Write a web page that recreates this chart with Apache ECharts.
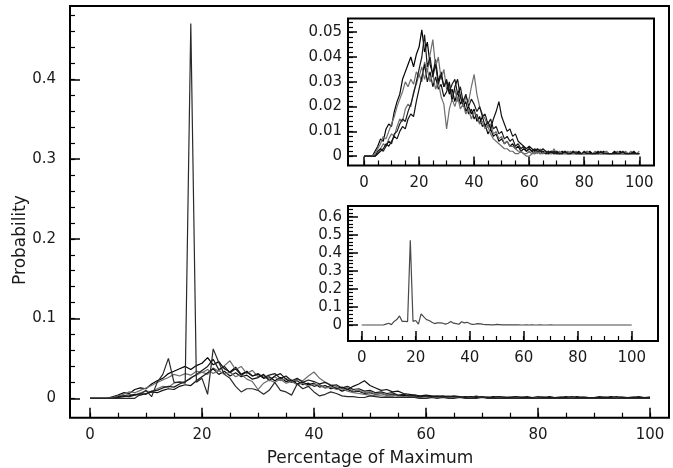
<!DOCTYPE html>
<html>
<head>
<meta charset="utf-8">
<script src="https://cdn.jsdelivr.net/npm/echarts@6/dist/echarts.min.js"></script>
<style>
html,body{margin:0;padding:0;background:#fff;}
#chart{width:673px;height:468px;}
</style>
</head>
<body>
<div id="chart"></div>
<script>
// x positions: percentage of maximum, 0..100 step 1
const pct = Array.from({length: 101}, (_, i) => i);

const seriesA = [0,0,0,0,0.002,0.004,0.007,0.006,0.011,0.013,
 0.012,0.018,0.022,0.025,0.031,0.034,0.037,0.040,0.036,0.041,
 0.044,0.051,0.042,0.046,0.037,0.033,0.039,0.030,0.034,0.028,
 0.030,0.025,0.027,0.022,0.026,0.021,0.023,0.018,0.020,0.017,
 0.019,0.014,0.016,0.012,0.013,0.009,0.011,0.008,0.009,0.006,
 0.007,0.005,0.006,0.004,0.005,0.003,0.004,0.002,0.003,0.002,
 0.003,
 0.002,0.001,0.002,0.001,0.002,0.001,0.001,0.002,0.001,0.001,
 0.001,0.002,0.001,0.001,0.001,0.002,0.001,0.001,0.001,0.001,
 0.001,0.002,0.001,0.001,0.001,0.001,0.002,0.001,0.001,0.001,
 0.001,0.001,0.002,0.001,0.001,0.001,0.001,0.001,0.001,0.001];

const seriesB = [0,0,0,0,0,0.001,0.003,0.005,0.004,0.007,
 0.009,0.008,0.012,0.015,0.014,0.019,0.021,0.020,0.026,0.029,
 0.033,0.030,0.038,0.034,0.041,0.047,0.036,0.040,0.031,0.035,
 0.027,0.029,0.024,0.027,0.022,0.025,0.020,0.024,0.022,0.028,
 0.033,0.025,0.020,0.017,0.015,0.012,0.013,0.009,0.010,0.007,
 0.008,0.005,0.006,0.004,0.004,0.003,0.002,0.002,0.001,0.000,
 0.000,
 0.001,0.002,0.001,0.003,0.001,0.002,0.002,0.001,0.003,0.001,
 0.002,0.001,0.001,0.002,0.001,0.001,0.002,0.001,0.001,0.001,
 0.002,0.001,0.001,0.002,0.001,0.001,0.001,0.002,0.001,0.001,
 0.001,0.002,0.001,0.001,0.001,0.001,0.002,0.001,0.001,0.002];

const seriesC = [0,0,0,0,0,0.001,0.002,0.003,0.005,0.004,
 0.006,0.008,0.007,0.010,0.012,0.011,0.015,0.017,0.016,0.022,
 0.027,0.032,0.037,0.030,0.034,0.028,0.032,0.027,0.029,0.024,
 0.026,0.030,0.022,0.028,0.031,0.024,0.020,0.022,0.017,0.019,
 0.015,0.017,0.013,0.016,0.012,0.014,0.011,0.015,0.018,0.022,
 0.016,0.013,0.010,0.011,0.008,0.009,0.006,0.005,0.004,0.003,
 0.004,
 0.003,0.002,0.003,0.002,0.002,0.001,0.002,0.001,0.002,0.001,
 0.001,0.001,0.002,0.001,0.001,0.001,0.001,0.002,0.001,0.001,
 0.001,0.001,0.001,0.001,0.002,0.001,0.001,0.001,0.001,0.001,
 0.002,0.001,0.001,0.001,0.001,0.001,0.001,0.002,0.001,0.001];

const seriesD = [0,0,0,0,0.001,0.003,0.005,0.008,0.007,0.010,
 0.013,0.016,0.020,0.023,0.026,0.030,0.028,0.031,0.029,0.034,
 0.032,0.036,0.031,0.035,0.030,0.033,0.027,0.030,0.024,0.021,
 0.011,0.019,0.023,0.020,0.024,0.019,0.021,0.017,0.019,0.015,
 0.018,0.016,0.013,0.014,0.011,0.012,0.009,0.007,0.006,0.005,
 0.004,0.003,0.003,0.002,0.002,0.001,0.001,0.002,0.001,0.001,
 0.002,
 0.001,0.001,0.002,0.001,0.001,0.002,0.001,0.001,0.001,0.002,
 0.001,0.001,0.001,0.001,0.002,0.001,0.001,0.001,0.001,0.001,
 0.002,0.001,0.001,0.001,0.001,0.001,0.001,0.002,0.001,0.001,
 0.001,0.001,0.001,0.001,0.002,0.001,0.001,0.001,0.001,0.001];

const seriesE = [0,0,0,0,0,0.002,0.003,0.002,0.004,0.006,
 0.005,0.009,0.010,0.013,0.015,0.014,0.018,0.021,0.025,0.030,
 0.035,0.040,0.049,0.036,0.040,0.032,0.037,0.029,0.033,0.028,
 0.031,0.026,0.029,0.031,0.025,0.028,0.022,0.025,0.020,0.023,
 0.021,0.018,0.020,0.016,0.017,0.013,0.015,0.011,0.012,0.009,
 0.010,0.007,0.008,0.006,0.007,0.004,0.005,0.003,0.004,0.002,
 0.003,
 0.002,0.003,0.002,0.002,0.003,0.002,0.001,0.002,0.001,0.002,
 0.001,0.001,0.002,0.001,0.001,0.002,0.001,0.001,0.001,0.002,
 0.001,0.001,0.001,0.001,0.001,0.002,0.001,0.001,0.001,0.001,
 0.001,0.001,0.001,0.002,0.001,0.001,0.001,0.001,0.001,0.001];

const seriesSpike = [0,0,0,0,0,0,0,0,0,0.005,
 0.010,0.002,0.020,0.030,0.050,0.020,0.020,0.019,0.470,0.020,
 0.025,0.005,0.062,0.045,0.030,0.025,0.015,0.008,0.012,0.012,
 0.010,0.005,0.010,0.020,0.010,0.008,0.004,0.018,0.012,0.015,
 0.008,0.003,0.005,0.008,0.006,0.003,0.002,0.002,0.001,0.001,
 0.003,0.002,0.001,0.001,0.001,0.001,0.001,0.001,0.001,0.000,
 0.000,
 0.001,0.000,0.001,0.000,0.000,0.001,0.000,0.000,0.000,0.001,
 0.000,0.000,0.000,0.000,0.000,0.000,0.000,0.000,0.000,0.000,
 0.000,0.000,0.000,0.000,0.000,0.000,0.000,0.000,0.000,0.000,
 0.000,0.000,0.000,0.000,0.000,0.000,0.000,0.000,0.000,0.000];

const multiSeries = [seriesA, seriesB, seriesC, seriesD, seriesE];
const multiColors = ['#000', '#6e6e6e', '#111', '#6e6e6e', '#1a1a1a'];

// tick settings (labels at the major ticks)
const xMajor = {min: 0, max: 100, interval: 20};
const xMinor = {min: 0, max: 100, interval: 5};
const mainYMajor = {min: 0, max: 0.4, interval: 0.1};
const mainYMinor = {min: 0, max: 0.48, interval: 0.02};
const insetAYMajor = {min: 0, max: 0.05, interval: 0.01};
const insetAYMinor = {min: 0, max: 0.054, interval: 0.002};
const insetBYMajor = {min: 0, max: 0.6, interval: 0.1};
const insetBYMinor = {min: 0, max: 0.64, interval: 0.02};

function pairs(arr) { return arr.map((v, i) => [pct[i], v]); }

const FONT = 'DejaVu Sans';
const TXT = '#1a1a1a';
const grids = [], xAxes = [], yAxes = [], series = [];

function addPanel(cfg) {
  const [fl, ft, fw, fh] = cfg.frame;
  const fb = ft + fh;
  // frame grid (border only)
  const g0 = grids.length;
  grids.push({left: fl, top: ft, width: fw, height: fh, show: true, outerBoundsMode: 'none', containLabel: false,
    borderColor: '#000', borderWidth: 2, backgroundColor: 'transparent'});
  xAxes.push({gridIndex: g0, type: 'value', show: false, min: 0, max: 1});
  yAxes.push({gridIndex: g0, type: 'value', show: false, min: 0, max: 1});
  const xOff = fb - cfg.y0, yOff = cfg.x0 - fl;
  [[cfg.yMajorT, true, cfg.majLen, 1.5], [cfg.yMinorT, false, cfg.minLen, 1.2]].forEach(([yt, major, len, lw]) => {
    const gi = grids.length;
    const top = cfg.y0 - yt.max * cfg.yPx;
    grids.push({left: cfg.x0, top: top, width: 100 * cfg.xPx, height: cfg.y0 - top,
      outerBoundsMode: 'none', containLabel: false});
    const xt = major ? xMajor : xMinor;
    xAxes.push({gridIndex: gi, type: 'value', min: xt.min, max: xt.max, interval: xt.interval,
      position: 'bottom', offset: xOff,
      axisLine: {show: false, onZero: false}, splitLine: {show: false},
      axisTick: {show: true, inside: true, length: len, lineStyle: {color: '#000', width: lw}},
      axisLabel: {show: major, margin: cfg.xLabMargin, color: TXT, fontFamily: FONT, fontSize: cfg.fs},
      name: major ? (cfg.xName || '') : '', nameLocation: 'middle', nameGap: cfg.xNameGap || 0,
      nameTextStyle: {color: TXT, fontFamily: FONT, fontSize: 17}});
    yAxes.push({gridIndex: gi, type: 'value', min: yt.min, max: yt.max, interval: yt.interval,
      position: 'left', offset: yOff,
      axisLine: {show: false, onZero: false}, splitLine: {show: false},
      axisTick: {show: true, inside: true, length: len, lineStyle: {color: '#000', width: lw}},
      axisLabel: {show: major, margin: cfg.yLabMargin, color: TXT, fontFamily: FONT, fontSize: cfg.fs,
        formatter: v => (Math.abs(v) < 1e-9 ? '0' : String(+v.toFixed(3)))}});
    if (!major) {
      cfg.lines.forEach(l => {
        series.push({type: 'line', xAxisIndex: gi, yAxisIndex: gi, data: pairs(l.data),
          showSymbol: false, symbol: 'none', clip: false, silent: true,
          lineStyle: {color: l.color, width: 1.2}, z: 3});
      });
    }
  });
}

const mainLines = multiSeries.map((d, i) => ({data: d, color: multiColors[i]}));
mainLines.push({data: seriesSpike, color: '#2a2a2a'});

addPanel({frame: [70, 6, 599, 411.7], x0: 90, xPx: 5.6, y0: 398.3, yPx: 797.5,
  yMajorT: mainYMajor, yMinorT: mainYMinor,
  majLen: 10, minLen: 5, fs: 15, xLabMargin: 10, yLabMargin: 14,
  xName: 'Percentage of Maximum', xNameGap: 32,
  lines: mainLines});

addPanel({frame: [348, 18.5, 306, 147], x0: 364, xPx: 2.753, y0: 156.2, yPx: 2480,
  yMajorT: insetAYMajor, yMinorT: insetAYMinor,
  majLen: 9, minLen: 5, fs: 15, xLabMargin: 10, yLabMargin: 6,
  lines: multiSeries.map((d, i) => ({data: d, color: multiColors[i]}))});

addPanel({frame: [348, 206, 310, 135], x0: 361.7, xPx: 2.7, y0: 325, yPx: 180.5,
  yMajorT: insetBYMajor, yMinorT: insetBYMinor,
  majLen: 10, minLen: 5, fs: 15, xLabMargin: 10, yLabMargin: 6,
  lines: [{data: seriesSpike, color: '#4a4a4a'}]});

const chart = echarts.init(document.getElementById('chart'), null, {renderer: 'canvas'});
chart.setOption({
  animation: false,
  backgroundColor: '#fff',
  grid: grids,
  xAxis: xAxes,
  yAxis: yAxes,
  series: series,
  graphic: [{type: 'text', x: 12, y: 240, rotation: Math.PI / 2,
    style: {text: 'Probability', fill: TXT, font: '17px "DejaVu Sans"', align: 'center', verticalAlign: 'top'}}]
});
</script>
</body>
</html>
